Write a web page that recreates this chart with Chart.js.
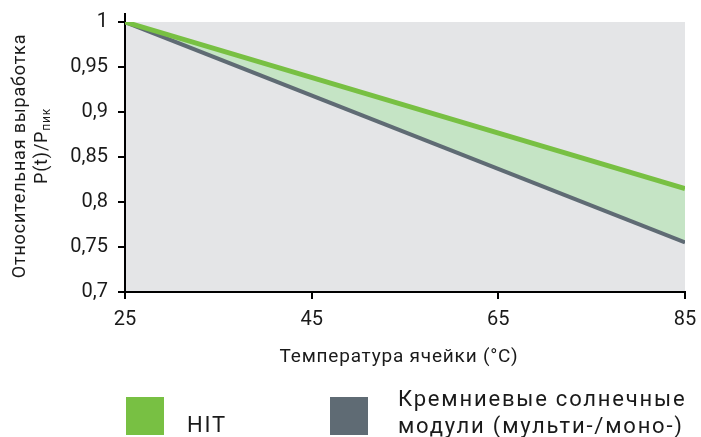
<!DOCTYPE html>
<html>
<head>
<meta charset="utf-8">
<script src="https://cdn.jsdelivr.net/npm/chart.js@4/dist/chart.umd.min.js"></script>
<style>
  body { margin: 0; background: #fff; }
  #wrap { width: 701px; height: 437px; }
</style>
</head>
<body>
<div id="wrap"><canvas id="chart" width="701" height="437"></canvas></div>
<script>
// Data
const temperatures = [25, 85];
const hitValues = [1.0, 0.815];
const siliconValues = [1.0, 0.755];
const seriesNames = ['HIT', 'Кремниевые солнечные|модули (мульти-/моно-)'];
const xTitle = 'Температура ячейки (°C)';
const yTitle = 'Относительная выработка';

const green = '#78c043';
const grey = '#5f6b74';
const FONT = 'Roboto, "DejaVu Sans", sans-serif';

function toPoints(values) {
    return temperatures.map((t, i) => ({ x: t, y: values[i] }));
}

// background of the plot area, axis titles and legend
const decor = {
    id: 'decor',
    beforeDraw(chart) {
        const { ctx, chartArea: a } = chart;
        ctx.save();
        ctx.fillStyle = '#e4e5e7';
        ctx.fillRect(a.left, a.top, a.right - a.left, a.bottom - a.top);
        ctx.restore();
    },
    afterDraw(chart) {
        const { ctx, chartArea: a } = chart;
        ctx.save();
        // y axis stub above the plot
        ctx.strokeStyle = '#000';
        ctx.lineWidth = 2;
        ctx.beginPath();
        ctx.moveTo(a.left, a.top - 9);
        ctx.lineTo(a.left, a.top);
        ctx.stroke();

        ctx.fillStyle = '#1a1a1a';
        // x title
        ctx.letterSpacing = '0.8px';
        ctx.font = '19px ' + FONT;
        ctx.textAlign = 'center';
        ctx.textBaseline = 'alphabetic';
        ctx.fillText(xTitle, 399, 362);

        // y title, rotated
        ctx.save();
        ctx.rotate(-Math.PI / 2);
        ctx.letterSpacing = '0.8px';
        ctx.font = '18px ' + FONT;
        ctx.fillText(yTitle, -156, 25);
        const main = 'P(t)/P';
        const w1 = ctx.measureText(main).width;
        ctx.font = '12px ' + FONT;
        const w2 = ctx.measureText('пик').width;
        const start = -146 - (w1 + w2) / 2;
        ctx.textAlign = 'left';
        ctx.font = '18px ' + FONT;
        ctx.fillText(main, start, 47);
        ctx.font = '12px ' + FONT;
        ctx.fillText('пик', start + w1, 50);
        ctx.restore();

        // legend
        ctx.textAlign = 'left';
        ctx.font = '22px ' + FONT;
        ctx.letterSpacing = '1.8px';
        ctx.fillStyle = green;
        ctx.fillRect(126, 397, 38, 38);
        ctx.fillStyle = grey;
        ctx.fillRect(330, 397, 38, 38);
        ctx.fillStyle = '#1a1a1a';
        ctx.fillText(seriesNames[0], 187, 432);
        const lines = seriesNames[1].split('|');
        ctx.fillText(lines[0], 398, 406);
        ctx.fillText(lines[1], 398, 433);
        ctx.restore();
    }
};

new Chart(document.getElementById('chart'), {
    type: 'line',
    data: {
        datasets: [{
            label: 'HIT',
            data: toPoints(hitValues),
            borderColor: green,
            borderWidth: 5,
            pointRadius: 0,
            fill: '+1',
            backgroundColor: '#c5e4c5',
            tension: 0
        }, {
            label: 'Si',
            data: toPoints(siliconValues),
            borderColor: grey,
            borderWidth: 4,
            pointRadius: 0,
            fill: false,
            tension: 0
        }]
    },
    options: {
        responsive: false,
        animation: false,
        layout: { padding: { top: 22, right: 0, left: 0, bottom: 0 } },
        plugins: {
            legend: { display: false },
            tooltip: { enabled: false },
            filler: { drawTime: 'beforeDatasetsDraw' }
        },
        scales: {
            x: {
                type: 'linear',
                min: 25,
                max: 85,
                afterFit: s => { s.height = 145; s.paddingRight = 16; s.paddingLeft = 0; },
                ticks: { stepSize: 20, padding: 9, color: '#1a1a1a', font: { family: FONT, size: 20 } },
                grid: { drawOnChartArea: false, tickLength: 7, color: '#000', lineWidth: 2 },
                border: { color: '#000', width: 2 }
            },
            y: {
                min: 0.7,
                max: 1,
                afterFit: s => { s.width = 125; },
                ticks: {
                    stepSize: 0.05,
                    padding: 10,
                    color: '#1a1a1a',
                    font: { family: FONT, size: 20 },
                    callback: v => String(Number(v.toFixed(2))).replace('.', ',')
                },
                grid: { drawOnChartArea: false, tickLength: 7, color: '#000', lineWidth: 2 },
                border: { color: '#000', width: 2 }
            }
        }
    },
    plugins: [decor]
});
</script>
</body>
</html>
